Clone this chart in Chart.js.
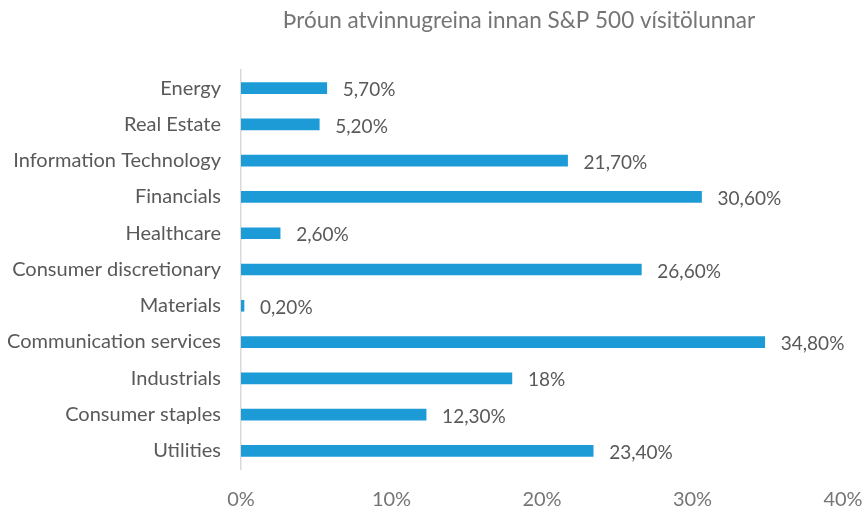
<!DOCTYPE html>
<html>
<head>
<meta charset="utf-8">
<script src="https://cdn.jsdelivr.net/npm/chart.js@4"></script>
<style>
  html, body { margin: 0; padding: 0; background: #fff; }
  #wrap { width: 868px; height: 509px; }
</style>
</head>
<body>
<div id="wrap"><canvas id="sectorChart"></canvas></div>
<script>
// flokkar og gildi
const categories = ['Energy', 'Real Estate', 'Information Technology', 'Financials', 'Healthcare',
  'Consumer discretionary', 'Materials', 'Communication services', 'Industrials',
  'Consumer staples', 'Utilities'];
const values = [5.7, 5.2, 21.7, 30.6, 2.6, 26.6, 0.2, 34.8, 18, 12.3, 23.4];
const valueLabels = ['5,70%', '5,20%', '21,70%', '30,60%', '2,60%', '26,60%', '0,20%',
  '34,80%', '18%', '12,30%', '23,40%'];
const xTicks = [0, 10, 20, 30, 40];
const chartTitle = 'Þróun atvinnugreina innan S&P 500 vísitölunnar';

const FONT = 'Lato, "Open Sans", sans-serif';

// titill teiknaður sjálfur
const titlePlugin = {
  id: 'titleText',
  afterDraw(chart) {
    const c = chart.ctx;
    c.save();
    c.font = '22.5px ' + FONT;
    c.fillStyle = '#757575';
    c.textAlign = 'center';
    c.textBaseline = 'middle';
    c.fillText(chartTitle, 519, 21);
    c.restore();
  }
};

// gildismerki hægra megin við súlur
const labelPlugin = {
  id: 'barLabels',
  afterDatasetsDraw(chart) {
    const c = chart.ctx;
    const meta = chart.getDatasetMeta(0);
    c.save();
    c.font = '19px ' + FONT;
    c.fillStyle = '#595959';
    c.textAlign = 'left';
    c.textBaseline = 'middle';
    meta.data.forEach((bar, i) => {
      c.fillText(valueLabels[i], bar.x + 16, bar.y + 2);
    });
    c.restore();
  }
};

const ctx = document.getElementById('sectorChart').getContext('2d');
new Chart(ctx, {
  type: 'bar',
  data: {
    labels: categories,
    datasets: [{
      data: values,
      backgroundColor: '#1c9bd7',
      barThickness: 11
    }]
  },
  options: {
    indexAxis: 'y',
    responsive: true,
    maintainAspectRatio: false,
    animation: false,
    layout: { padding: { top: 70, right: 25, left: 0, bottom: 0 } },
    plugins: {
      legend: { display: false },
      tooltip: { enabled: false }
    },
    scales: {
      x: {
        min: 0,
        max: 40,
        afterFit(scale) { scale.height = 40; },
        afterBuildTicks(scale) { scale.ticks = xTicks.map(v => ({ value: v })); },
        grid: { display: false, drawTicks: true, tickLength: 19 },
        border: { display: false },
        ticks: {
          padding: 0,
          color: '#757575',
          font: { family: FONT, size: 20 },
          maxRotation: 0,
          callback: v => v + '%'
        }
      },
      y: {
        afterFit(scale) { scale.width = 241; },
        grid: { display: false, drawTicks: false },
        border: { display: true, color: '#d9d9d9', width: 1.5 },
        ticks: {
          padding: 20,
          color: '#595959',
          font: { family: FONT, size: 20 }
        }
      }
    }
  },
  plugins: [titlePlugin, labelPlugin]
});
</script>
</body>
</html>
